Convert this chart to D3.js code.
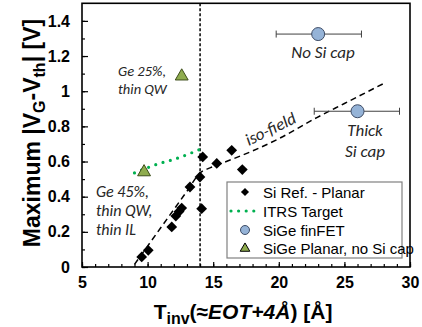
<!DOCTYPE html>
<html><head><meta charset="utf-8">
<script src="https://cdn.jsdelivr.net/npm/d3@7"></script>
<style>body{margin:0;background:#fff}svg{display:block}</style>
</head><body>
<script>
// ---- data ----
const siRefT = [9.55, 10.05, 11.84, 12.15, 12.4, 12.6, 13.23, 13.99, 14.2, 14.12, 15.27, 16.41, 17.22];
const siRefV = [0.057, 0.095, 0.228, 0.29, 0.315, 0.335, 0.455, 0.512, 0.626, 0.332, 0.589, 0.664, 0.554];
const itrsT = [9.0, 10.0, 10.9, 12.0, 13.3, 13.95];
const itrsV = [0.535, 0.565, 0.589, 0.612, 0.648, 0.668];
const finT = [23.0, 26.0];
const finV = [1.325, 0.886];
const finErrLo = [19.8, 22.7];
const finErrHi = [26.3, 29.2];
const planarT = [9.73, 12.6];
const planarV = [0.54, 1.085];
const isoT = [9.0, 11, 13, 14, 14.8, 16, 18, 20, 22.9, 25, 28];
const isoV = [0.015, 0.223, 0.431, 0.535, 0.565, 0.6, 0.66, 0.73, 0.85, 0.93, 1.044];
const targetTinv = 14;
const xTicks = [5, 10, 15, 20, 25, 30];
const yTicks = [0, 0.2, 0.4, 0.6, 0.8, 1, 1.2, 1.4];
const legendLabels = ["Si Ref. - Planar", "ITRS Target", "SiGe finFET", "SiGe Planar, no Si cap"];

const W = 422, H = 327;
const svg = d3.select("body").append("svg").attr("width", W).attr("height", H);
const x = d3.scaleLinear([5, 30], [82, 410]);
const y = d3.scaleLinear([0, 1.5], [267, 3.3]);
const ann = "Carlito, 'Liberation Sans Narrow', Lato, sans-serif";

// axes
const xa = svg.append("g").attr("transform", `translate(0,${y(0)})`)
  .call(d3.axisBottom(x).tickValues(xTicks).tickSize(-5).tickPadding(10).tickFormat(d3.format("d")));
const xm = svg.append("g").attr("transform", `translate(0,${y(0)})`)
  .call(d3.axisBottom(x).tickValues(d3.range(5, 31, 1)).tickSize(-3).tickFormat(""));
const ya = svg.append("g").attr("transform", `translate(${x(5)},0)`)
  .call(d3.axisLeft(y).tickValues(yTicks).tickSize(-6).tickPadding(12).tickFormat(d => d3.format("")(d)));
const ym = svg.append("g").attr("transform", `translate(${x(5)},0)`)
  .call(d3.axisLeft(y).tickValues(d3.range(0, 15).map(i => i / 10)).tickSize(-3).tickFormat(""));
[xa, xm, ya, ym].forEach(g => {
  g.select(".domain").remove();
  g.selectAll("line").attr("stroke", "#000").attr("stroke-width", 1.2);
  g.selectAll("text").attr("font-family", "'Liberation Sans', Arial, sans-serif")
    .attr("font-weight", "bold").attr("font-size", 16).attr("fill", "#000");
});

// frame
svg.append("rect").attr("x", x(5)).attr("y", y(1.5)).attr("width", x(30) - x(5)).attr("height", y(0) - y(1.5))
  .attr("fill", "none").attr("stroke", "#000").attr("stroke-width", 1.6);

// vertical target line
svg.append("line").attr("x1", x(targetTinv)).attr("x2", x(targetTinv)).attr("y1", y(1.5)).attr("y2", y(0))
  .attr("stroke", "#000").attr("stroke-width", 1.5).attr("stroke-dasharray", "3,2");

// iso-field
const isoData = isoT.map((t, i) => [t, isoV[i]]);
svg.append("path").datum(isoData)
  .attr("d", d3.line().x(d => x(d[0])).y(d => y(d[1])).curve(d3.curveMonotoneX))
  .attr("fill", "none").attr("stroke", "#000").attr("stroke-width", 1.5).attr("stroke-dasharray", "6,4");

// ITRS dotted
const itrsData = itrsT.map((t, i) => [t, itrsV[i]]);
svg.append("path").datum(itrsData)
  .attr("d", d3.line().x(d => x(d[0])).y(d => y(d[1])).curve(d3.curveMonotoneX))
  .attr("fill", "none").attr("stroke", "#00b050").attr("stroke-width", 3.2)
  .attr("stroke-linecap", "round").attr("stroke-dasharray", "0,7.6");

// diamonds
const diamond = d3.symbol().type(d3.symbolDiamond2).size(74);
svg.append("g").selectAll("path").data(siRefT.map((t, i) => [t, siRefV[i]])).join("path")
  .attr("d", diamond).attr("transform", d => `translate(${x(d[0])},${y(d[1])})`)
  .attr("fill", "#000");

// error bars + circles
finT.forEach((t, i) => {
  const g = svg.append("g").attr("stroke", "#404040").attr("stroke-width", 1);
  g.append("line").attr("x1", x(finErrLo[i])).attr("x2", x(finErrHi[i])).attr("y1", y(finV[i])).attr("y2", y(finV[i]));
  [finErrLo[i], finErrHi[i]].forEach(e => g.append("line").attr("x1", x(e)).attr("x2", x(e))
    .attr("y1", y(finV[i]) - 3.5).attr("y2", y(finV[i]) + 3.5));
});
svg.append("g").selectAll("circle").data(finT.map((t, i) => [t, finV[i]])).join("circle")
  .attr("cx", d => x(d[0])).attr("cy", d => y(d[1])).attr("r", 6.5)
  .attr("fill", "#95b3d7").attr("stroke", "#3e4c66").attr("stroke-width", 1);

// triangles
const tri = d3.symbol().type(d3.symbolTriangle).size(72);
svg.append("g").selectAll("path").data(planarT.map((t, i) => [t, planarV[i]])).join("path")
  .attr("d", tri).attr("transform", d => `translate(${x(d[0])},${y(d[1])})`)
  .attr("fill", "#8fac4e").attr("stroke", "#3d4d1a").attr("stroke-width", 1);

// annotations
function note(lines, px, py, size, lh, anchor) {
  const t = svg.append("text").attr("font-family", ann).attr("font-style", "italic")
    .attr("font-size", size).attr("fill", "#262626").attr("text-anchor", anchor || "start");
  lines.forEach((l, i) => t.append("tspan").attr("x", px).attr("y", py + i * lh).text(l));
}
note(["No Si cap"], 323, 58, 17, 0, "middle");
note(["Thick", "Si cap"], 365, 136, 17, 21, "middle");
note(["Ge 25%,", "thin QW"], 118, 76, 14.5, 18, "start");
note(["Ge 45%,", "thin QW,", "thin IL"], 96, 197, 16, 19, "start");
svg.append("text").attr("font-family", ann).attr("font-style", "italic").attr("font-size", 17)
  .attr("fill", "#262626").attr("text-anchor", "middle")
  .attr("transform", "translate(273,134) rotate(-26)").text("iso-field");

// legend
const lg = svg.append("g");
lg.append("rect").attr("x", 227).attr("y", 182).attr("width", 175).attr("height", 76)
  .attr("fill", "#fff").attr("stroke", "#808080").attr("stroke-width", 1.2);
const ly = [192, 211, 230, 248.5];
lg.append("path").attr("d", diamond).attr("transform", `translate(245,${ly[0]}) scale(0.75)`).attr("fill", "#000");
lg.append("line").attr("x1", 231).attr("x2", 258).attr("y1", ly[1]).attr("y2", ly[1])
  .attr("stroke", "#00b050").attr("stroke-width", 3.2).attr("stroke-linecap", "round").attr("stroke-dasharray", "0,7.6");
lg.append("circle").attr("cx", 245).attr("cy", ly[2]).attr("r", 4.5).attr("fill", "#95b3d7").attr("stroke", "#3e4c66");
lg.append("path").attr("d", d3.symbol().type(d3.symbolTriangle).size(40)).attr("transform", `translate(245,${ly[3]})`)
  .attr("fill", "#8fac4e").attr("stroke", "#000").attr("stroke-width", 1);
legendLabels.forEach((l, i) => lg.append("text").attr("x", 263).attr("y", ly[i] + 5.5)
  .attr("font-family", "'Liberation Sans', Arial, sans-serif").attr("font-size", 15).attr("fill", "#000").text(l));

// axis titles
const yt = svg.append("text").attr("transform", "translate(40,133) rotate(-90)").attr("text-anchor", "middle")
  .attr("font-family", "'Liberation Sans', Arial, sans-serif").attr("font-weight", "bold").attr("font-size", 23).attr("fill", "#000");
yt.append("tspan").text("Maximum |V");
yt.append("tspan").attr("font-size", 16).attr("dy", 5).text("G");
yt.append("tspan").attr("dy", -5).text("-V");
yt.append("tspan").attr("font-size", 16).attr("dy", 5).text("th");
yt.append("tspan").attr("dy", -5).text("| [V]");

const xt = svg.append("text").attr("x", 243).attr("y", 319).attr("text-anchor", "middle")
  .attr("font-family", "'Liberation Sans', Arial, sans-serif").attr("font-weight", "bold").attr("font-size", 21).attr("fill", "#000");
xt.append("tspan").text("T");
xt.append("tspan").attr("font-size", 16).attr("dy", 5).text("inv");
xt.append("tspan").attr("dy", -5).text("(≈");
xt.append("tspan").attr("font-style", "italic").text("EOT+4Å");
xt.append("tspan").text(") [Å]");
</script>
</body></html>
